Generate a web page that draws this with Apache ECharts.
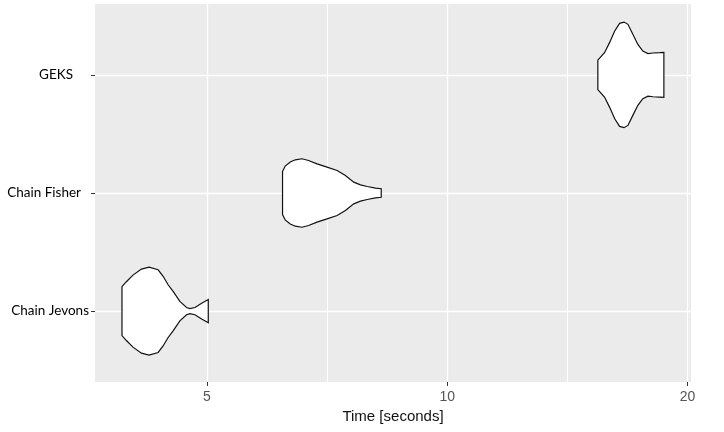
<!DOCTYPE html>
<html>
<head>
<meta charset="utf-8">
<script src="https://cdn.jsdelivr.net/npm/echarts@6/dist/echarts.min.js"></script>
<style>
html,body{margin:0;padding:0;background:#fff;}
#chart{width:724px;height:432px;}
</style>
</head>
<body>
<div id="chart"></div>
<script>
// Categories (bottom to top)
const categories = ['Chain Jevons', 'Chain Fisher', 'GEKS'];

// Violin outlines: time (seconds) and half-width (in category units)
const jevonsTime = [3.913, 3.963, 4.039, 4.139, 4.231, 4.343, 4.406, 4.470, 4.535, 4.624, 4.714, 4.760, 4.830, 4.924, 5.019];
const jevonsHalfWidth = [0.207, 0.249, 0.305, 0.356, 0.373, 0.350, 0.295, 0.223, 0.167, 0.083, 0.031, 0.022, 0.031, 0.067, 0.099];

const fisherTime = [6.218, 6.266, 6.358, 6.451, 6.577, 6.703, 6.868, 7.070, 7.278, 7.454, 7.636, 7.785, 7.938, 8.131, 8.266];
const fisherHalfWidth = [0.182, 0.228, 0.262, 0.281, 0.290, 0.275, 0.247, 0.219, 0.191, 0.148, 0.092, 0.069, 0.055, 0.042, 0.036];

const geksTime = [15.44, 15.54, 15.74, 15.97, 16.21, 16.44, 16.65, 16.84, 17.08, 17.33, 17.58, 17.84, 18.10, 18.46, 18.68];
const geksHalfWidth = [0.125, 0.146, 0.188, 0.273, 0.371, 0.436, 0.447, 0.428, 0.343, 0.258, 0.202, 0.180, 0.185, 0.188, 0.191];

// Axis ticks
const xTickLabels = [5, 10, 20];
const xMinorGrid = [7.071, 14.142];
const xRange = [3.62, 20.2];
const yRange = [0.4, 3.6];

const violins = [
  { time: jevonsTime, half: jevonsHalfWidth },
  { time: fisherTime, half: fisherHalfWidth },
  { time: geksTime, half: geksHalfWidth }
];

const L = Math.log10;
const chart = echarts.init(document.getElementById('chart'), null, { renderer: 'canvas' });

const option = {
  animation: false,
  backgroundColor: '#ffffff',
  grid: { left: 95, right: 33, top: 4, bottom: 50, show: true, backgroundColor: '#EBEBEB', borderWidth: 0 },
  xAxis: [
    {
      type: 'value',
      min: L(xRange[0]),
      max: L(xRange[1]),
      axisLine: { show: false },
      axisTick: { show: true, length: 4, customValues: xTickLabels.map(L), lineStyle: { color: '#333333', width: 1 } },
      axisLabel: {
        customValues: xTickLabels.map(L),
        formatter: v => String(Math.round(Math.pow(10, v))),
        color: '#555555', fontFamily: 'Liberation Sans', fontSize: 14, margin: 8
      },
      splitLine: { show: true, lineStyle: { color: '#ffffff', width: 1.3 } },
      name: 'Time [seconds]',
      nameLocation: 'middle',
      nameGap: 23,
      nameTextStyle: { color: '#111111', fontFamily: 'Liberation Sans', fontSize: 15 }
    },
    {
      type: 'value',
      min: L(xRange[0]),
      max: L(xRange[1]),
      position: 'bottom',
      axisLine: { show: false },
      axisTick: { show: false, customValues: xMinorGrid.map(L) },
      axisLabel: { show: false, customValues: xMinorGrid.map(L) },
      splitLine: { show: true, lineStyle: { color: '#ffffff', width: 1 } }
    }
  ],
  yAxis: {
    type: 'value',
    min: yRange[0],
    max: yRange[1],
    axisLine: { show: false },
    axisTick: { show: true, length: 4, customValues: [1, 2, 3], lineStyle: { color: '#333333', width: 1 } },
    axisLabel: {
      customValues: [1, 2, 3],
      margin: 6,
      formatter: v => {
        const i = Math.round(v) - 1;
        const key = ['j', 'f', 'g'][i];
        return '{' + key + '|' + categories[i] + '}';
      },
      rich: {
        j: { fontFamily: 'Lato', fontSize: 13.5, color: '#000000', padding: [0, 0, 0, 0] },
        f: { fontFamily: 'Lato', fontSize: 13.5, color: '#000000', padding: [0, 8, 0, 0] },
        g: { fontFamily: 'Lato', fontSize: 13.5, color: '#000000', padding: [0, 16, 0, 0] }
      }
    },
    splitLine: { show: true, lineStyle: { color: '#ffffff', width: 1.3 } }
  },
  series: [{
    type: 'custom',
    xAxisIndex: 0,
    yAxisIndex: 0,
    clip: false,
    data: violins.map((v, i) => [L(v.time[0]), i + 1]),
    renderItem: (params, api) => {
      const i = params.dataIndex;
      const v = violins[i];
      const c = i + 1;
      const pts = [];
      for (let k = 0; k < v.time.length; k++) pts.push(api.coord([L(v.time[k]), c + v.half[k]]));
      for (let k = v.time.length - 1; k >= 0; k--) pts.push(api.coord([L(v.time[k]), c - v.half[k]]));
      return {
        type: 'polygon',
        shape: { points: pts, smooth: 0 },
        style: { fill: '#ffffff', stroke: '#111111', lineWidth: 1.2 }
      };
    }
  }]
};
chart.setOption(option);
</script>
</body>
</html>
